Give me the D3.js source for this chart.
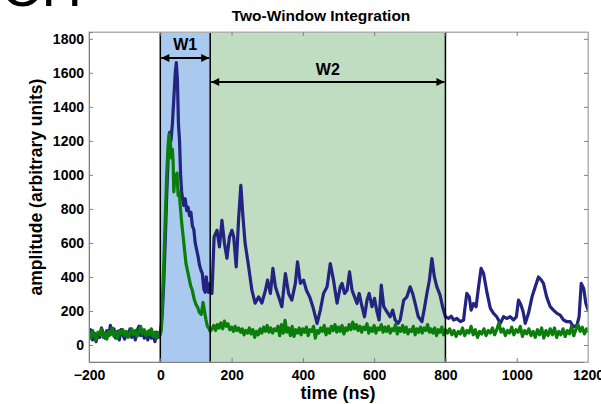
<!DOCTYPE html>
<html>
<head>
<meta charset="utf-8">
<script src="https://cdn.jsdelivr.net/npm/d3@7"></script>
<style>
  body { margin: 0; background: #fff; }
  text { font-family: Arial, "Liberation Sans", sans-serif; }
</style>
</head>
<body>
<script>
// tick values
var xTicks = [-200, 0, 200, 400, 600, 800, 1000, 1200];
var yTicks = [0, 200, 400, 600, 800, 1000, 1200, 1400, 1600, 1800];

// integration windows (ns)
var windowNames = ["W1", "W2"];
var windowStart = [0, 140];
var windowEnd = [140, 800];

// blue trace: [time ns, amplitude]
var blueTrace = [[-200,50],[-195,90],[-190,30],[-185,70],[-180,20],[-175,60],[-170,45],[-165,100],[-160,70],[-155,40],[-150,85],[-145,55],[-140,115],[-135,65],[-130,95],[-125,40],[-120,80],[-115,30],[-110,90],[-105,60],[-100,35],[-95,75],[-90,50],[-85,95],[-80,45],[-75,70],[-70,30],[-65,85],[-60,110],[-55,55],[-50,80],[-45,40],[-40,70],[-35,30],[-30,85],[-25,40],[-20,60],[-15,20],[-10,75],[-5,45],[0,80],[3,120],
  [6,200],[10,380],[14,620],[18,880],[22,1100],[26,1250],[30,1200],[34,1300],[38,1450],[42,1600],[45,1660],[48,1560],[51,1300],[54,1200],[57,1000],[60,900],[63,850],[66,820],[70,860],[74,790],[78,810],[82,760],[86,780],[90,700],[94,680],[98,600],[102,560],[106,520],[110,470],[114,440],[118,420],[122,330],[126,310],[129,400],[132,340],[135,310],[138,360],[140,310],
  [145,303],[151,635],[159,674],[166,577],[173,733],[180,598],[187,510],[194,635],[201,674],[206,635],[213,459],[220,752],[226,938],[232,752],[238,598],[248,459],[257,322],[266,246],[276,283],[285,246],[295,322],[301,381],[309,303],[316,450],[323,342],[332,283],[341,225],[351,420],[360,303],[369,264],[379,362],[385,489],[393,362],[402,381],[410,322],[419,283],[428,225],[440,127],[449,205],[458,303],[468,342],[477,479],[486,381],[496,246],[505,342],[510,362],[517,303],[524,322],[531,430],[538,322],[545,283],[552,244],[558,303],[566,225],[573,166],[580,264],[586,303],[594,225],[601,274],[608,195],[614,147],[620,352],[627,225],[636,195],[645,166],[652,205],[659,147],[667,127],[673,147],[683,264],[692,283],[701,342],[708,303],[715,244],[724,166],[734,137],[741,215],[748,303],[755,381],[762,508],[769,400],[776,342],[785,293],[792,225],[800,166],
  [809,156],[816,170],[823,147],[832,156],[842,137],[851,147],[854,205],[860,303],[867,283],[872,205],[879,244],[886,225],[893,342],[900,450],[907,420],[917,303],[926,215],[935,186],[944,166],[954,127],[963,166],[972,156],[982,166],[991,147],[999,166],[1005,264],[1012,235],[1018,195],[1024,127],[1033,186],[1043,283],[1052,342],[1061,400],[1069,381],[1075,362],[1084,283],[1094,225],[1103,205],[1113,186],[1122,176],[1131,147],[1141,137],[1150,137],[1159,107],[1169,117],[1175,166],[1181,362],[1188,332],[1194,244],[1202,195]];

// green trace: [time ns, amplitude]
var greenTrace = [[-200,70],[-195,40],[-190,85],[-185,55],[-180,30],[-175,75],[-170,60],[-165,95],[-160,45],[-155,70],[-150,35],[-145,80],[-140,60],[-135,100],[-130,50],[-125,75],[-120,40],[-115,85],[-110,65],[-105,90],[-100,55],[-95,80],[-90,45],[-85,70],[-80,95],[-75,60],[-70,85],[-65,50],[-60,75],[-55,110],[-50,65],[-45,90],[-40,55],[-35,80],[-30,60],[-25,95],[-20,50],[-15,75],[-10,40],[-5,70],[0,60],[3,90],
  [6,250],[10,480],[14,750],[18,1000],[22,1180],[25,1240],[28,1200],[31,1100],[34,1150],[36,1080],[38,900],[41,1000],[44,960],[47,1010],[50,880],[53,900],[56,820],[60,720],[64,640],[68,560],[72,480],[76,440],[80,400],[85,350],[90,320],[95,270],[100,240],[105,220],[110,190],[115,180],[120,250],[124,200],[128,150],[132,110],[136,100],[140,80],
  [145,95],[150,115],[155,85],[160,120],[165,100],[170,130],[175,95],[180,140],[185,110],[190,125],[195,90],[200,105],[205,80],[210,110],[215,85],[220,100],[225,75],[230,95],[235,60],[240,85],[245,70],[250,100],[255,65],[260,90],[265,45],[270,80],[275,60],[280,95],[285,70],[290,105],[295,80],[300,115],[305,75],[310,100],[315,70],[320,95],[325,85],[330,110],[335,55],[340,120],[345,70],[350,145],[355,75],[360,100],[365,55],[370,110],[375,50],[380,90],[385,70],[390,100],[395,60],[400,95],[405,75],[410,105],[415,55],[420,90],[425,80],[430,110],[435,40],[440,85],[445,70],[450,100],[455,80],[460,115],[465,60],[470,95],[475,70],[480,110],[485,85],[490,120],[495,75],[500,105],[505,80],[510,115],[515,65],[520,100],[525,85],[530,120],[535,90],[540,135],[545,95],[550,120],[555,85],[560,110],[565,75],[570,105],[575,90],[580,125],[585,70],[590,100],[595,80],[600,115],[605,70],[610,100],[615,90],[620,120],[625,75],[630,105],[635,80],[640,110],[645,70],[650,95],[655,85],[660,120],[665,65],[670,100],[675,80],[680,115],[685,75],[690,105],[695,65],[700,90],[705,80],[710,110],[715,60],[720,95],[725,75],[730,105],[735,70],[740,100],[745,85],[750,120],[755,75],[760,95],[765,70],[770,100],[775,55],[780,90],[785,75],[790,105],[795,60],[800,90],
  [806,70],[812,95],[818,60],[824,85],[830,50],[836,80],[842,65],[848,100],[854,55],[860,85],[866,70],[872,110],[878,60],[884,90],[890,45],[896,80],[902,65],[908,95],[914,55],[920,85],[926,70],[932,100],[938,60],[944,90],[950,130],[956,75],[962,95],[968,55],[974,85],[980,70],[986,105],[992,60],[998,90],[1004,75],[1010,110],[1016,50],[1022,85],[1028,65],[1034,95],[1040,55],[1046,80],[1052,45],[1058,90],[1064,60],[1070,100],[1076,40],[1082,85],[1088,55],[1094,95],[1100,60],[1106,100],[1112,45],[1118,80],[1124,60],[1130,95],[1136,50],[1142,85],[1148,65],[1154,110],[1160,55],[1166,90],[1172,120],[1178,80],[1184,105],[1190,65],[1196,95],[1202,75]];

var width = 601, height = 404;
var pLeft = 89, pRight = 588, pTop = 32, pBottom = 362;

var svg = d3.select("body").append("svg")
  .attr("width", width).attr("height", height);

var x = d3.scaleLinear().domain([-200, 1200]).range([pLeft, pRight]);
var y = d3.scaleLinear().domain([-100, 1840]).range([pBottom, pTop]);

// cut-off heading from the page above
svg.append("text").attr("x", 1).attr("y", 6)
  .style("font-size", "56px").text("CH");

svg.append("text").attr("x", 321).attr("y", 21)
  .attr("text-anchor", "middle").style("font-weight", "bold")
  .style("font-size", "15.5px").text("Two-Window Integration");

var defs = svg.append("defs");
defs.append("clipPath").attr("id", "plotclip")
  .append("rect").attr("x", pLeft).attr("y", pTop)
  .attr("width", pRight - pLeft).attr("height", pBottom - pTop);

var plot = svg.append("g").attr("clip-path", "url(#plotclip)");

// window shading
var fills = ["#a9c9ef", "#c1ddc1"];
windowNames.forEach(function(n, i) {
  plot.append("rect")
    .attr("x", x(windowStart[i])).attr("y", pTop)
    .attr("width", x(windowEnd[i]) - x(windowStart[i]))
    .attr("height", pBottom - pTop)
    .style("fill", fills[i]);
});

var line = d3.line().x(function(d){ return x(d[0]); }).y(function(d){ return y(d[1]); });

plot.append("path").datum(blueTrace).attr("d", line)
  .style("fill", "none").style("stroke", "#232381").style("stroke-width", 3.2)
  .style("stroke-linejoin", "round");
plot.append("path").datum(greenTrace).attr("d", line)
  .style("fill", "none").style("stroke", "#0a7d0a").style("stroke-width", 3.2)
  .style("stroke-linejoin", "round");

// window boundaries
[0, 140, 800].forEach(function(t) {
  svg.append("line").attr("x1", x(t)).attr("x2", x(t))
    .attr("y1", pTop).attr("y2", pBottom)
    .style("stroke", "#000").style("stroke-width", 1.5);
});

// arrows
defs.append("marker").attr("id", "ahead").attr("viewBox", "0 0 10 10")
  .attr("refX", 10).attr("refY", 5).attr("markerWidth", 10).attr("markerHeight", 8)
  .attr("markerUnits", "userSpaceOnUse").attr("orient", "auto-start-reverse")
  .append("path").attr("d", "M0,0L10,5L0,10Z").style("fill", "#000");

var arrowY = [58, 82];
var labelY = [50, 75];
windowNames.forEach(function(n, i) {
  svg.append("line")
    .attr("x1", x(windowStart[i]) + 1).attr("x2", x(windowEnd[i]) - 1)
    .attr("y1", arrowY[i]).attr("y2", arrowY[i])
    .style("stroke", "#000").style("stroke-width", 2)
    .attr("marker-start", "url(#ahead)").attr("marker-end", "url(#ahead)");
  svg.append("text")
    .attr("x", x((windowStart[i] + windowEnd[i]) / 2)).attr("y", labelY[i])
    .attr("text-anchor", "middle").style("font-weight", "bold")
    .style("font-size", "16px").text(n);
});

// axes box
var axisColor = "#808080";
svg.append("rect").attr("x", pLeft).attr("y", pTop)
  .attr("width", pRight - pLeft).attr("height", pBottom - pTop)
  .style("fill", "none").style("stroke", "#b0b0b0").style("stroke-width", 1);

var fmt = d3.format("d");
var xAxis = svg.append("g").attr("transform", "translate(0," + pBottom + ")")
  .call(d3.axisBottom(x).tickValues(xTicks).tickSize(-4).tickPadding(8).tickFormat(fmt));
var xTop = svg.append("g").attr("transform", "translate(0," + pTop + ")")
  .call(d3.axisTop(x).tickValues(xTicks).tickSize(-4).tickFormat(""));
var yAxis = svg.append("g").attr("transform", "translate(" + pLeft + ",0)")
  .call(d3.axisLeft(y).tickValues(yTicks).tickSize(-4).tickPadding(5).tickFormat(fmt));
var yRight = svg.append("g").attr("transform", "translate(" + pRight + ",0)")
  .call(d3.axisRight(y).tickValues(yTicks).tickSize(-4).tickFormat(""));

[xAxis, xTop, yAxis, yRight].forEach(function(a) {
  a.select(".domain").style("stroke", axisColor);
  a.selectAll(".tick line").style("stroke", axisColor);
  a.selectAll("text").style("font-family", "Arial, 'Liberation Sans', sans-serif")
    .style("font-weight", "bold").style("font-size", "14px").style("fill", "#000");
});
xTop.select(".domain").style("stroke", "#b0b0b0");
yRight.select(".domain").style("stroke", "#b0b0b0");

svg.append("text").attr("x", 338).attr("y", 399)
  .attr("text-anchor", "middle").style("font-weight", "bold")
  .style("font-size", "18px").text("time (ns)");

svg.append("text")
  .attr("transform", "translate(42,187) rotate(-90)")
  .attr("text-anchor", "middle").style("font-weight", "bold")
  .style("font-size", "17.5px").text("amplitude (arbitrary units)");
</script>
</body>
</html>
